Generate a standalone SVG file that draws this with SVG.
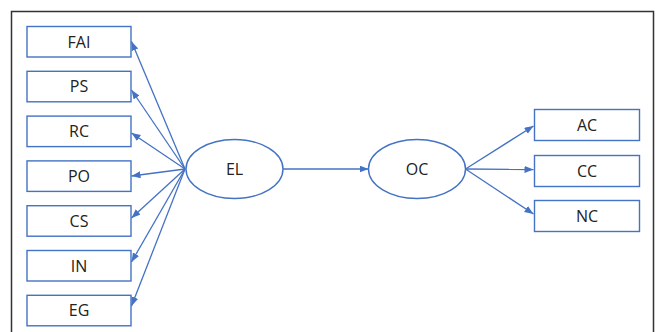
<svg xmlns="http://www.w3.org/2000/svg" width="660" height="332" viewBox="0 0 660 332">
<style>
.box{fill:#fff;stroke:#4472c4;stroke-width:1.4}
.ell{fill:#fff;stroke:#4472c4;stroke-width:1.4}
.lbl{font-family:"Open Sans","Noto Sans",sans-serif;font-size:16px;fill:#222;text-anchor:middle}
.con{stroke:#4472c4;stroke-width:1.3;fill:none;marker-end:url(#ah)}
</style>
<defs>
<marker id="ah" markerUnits="userSpaceOnUse" markerWidth="10" markerHeight="8" refX="9" refY="3.5" orient="auto">
<path d="M0,0 L9,3.5 L0,7 z" fill="#4472c4"/>
</marker>
</defs>
<rect width="660" height="332" fill="#fff"/>
<path d="M11.5,340 V11.5 H653.5 V340" fill="none" stroke="#333" stroke-width="1.5"/>
<g id="connectors">
<line class="con" x1="185" y1="169" x2="131.5" y2="41.5"/>
<line class="con" x1="185" y1="169" x2="131.5" y2="90"/>
<line class="con" x1="185" y1="169" x2="131.5" y2="133"/>
<line class="con" x1="185" y1="169" x2="131.5" y2="176"/>
<line class="con" x1="185" y1="169" x2="131.5" y2="218"/>
<line class="con" x1="185" y1="169" x2="131.5" y2="262"/>
<line class="con" x1="185" y1="169" x2="131.5" y2="306"/>
<line class="con" x1="283" y1="169" x2="368.5" y2="169"/>
<line class="con" x1="465.5" y1="169" x2="533.5" y2="126"/>
<line class="con" x1="465.5" y1="169" x2="533.5" y2="169.5"/>
<line class="con" x1="465.5" y1="169" x2="533.5" y2="214"/>
</g>
<g id="FAI"><rect class="box" x="27" y="26.5" width="104" height="30.5"/><text class="lbl" x="79" y="47.5">FAI</text></g>
<g id="PS"><rect class="box" x="27" y="71.3" width="104" height="30.5"/><text class="lbl" x="79" y="92.3">PS</text></g>
<g id="RC"><rect class="box" x="27" y="116.1" width="104" height="30.5"/><text class="lbl" x="79" y="137.1">RC</text></g>
<g id="PO"><rect class="box" x="27" y="160.9" width="104" height="30.5"/><text class="lbl" x="79" y="181.9">PO</text></g>
<g id="CS"><rect class="box" x="27" y="205.7" width="104" height="30.5"/><text class="lbl" x="79" y="226.7">CS</text></g>
<g id="IN"><rect class="box" x="27" y="250.5" width="104" height="30.5"/><text class="lbl" x="79" y="271.5">IN</text></g>
<g id="EG"><rect class="box" x="27" y="295.3" width="104" height="30.5"/><text class="lbl" x="79" y="316.3">EG</text></g>
<g id="EL"><ellipse class="ell" cx="234.5" cy="169" rx="48.5" ry="29.5"/><text class="lbl" x="234.5" y="175">EL</text></g>
<g id="OC"><ellipse class="ell" cx="417" cy="169" rx="48.5" ry="29.5"/><text class="lbl" x="417" y="175">OC</text></g>
<g id="AC"><rect class="box" x="534.5" y="109.5" width="105" height="31"/><text class="lbl" x="587" y="131">AC</text></g>
<g id="CC"><rect class="box" x="534.5" y="155.5" width="105" height="31"/><text class="lbl" x="587" y="177">CC</text></g>
<g id="NC"><rect class="box" x="534.5" y="200.5" width="105" height="31"/><text class="lbl" x="587" y="222">NC</text></g>
</svg>
